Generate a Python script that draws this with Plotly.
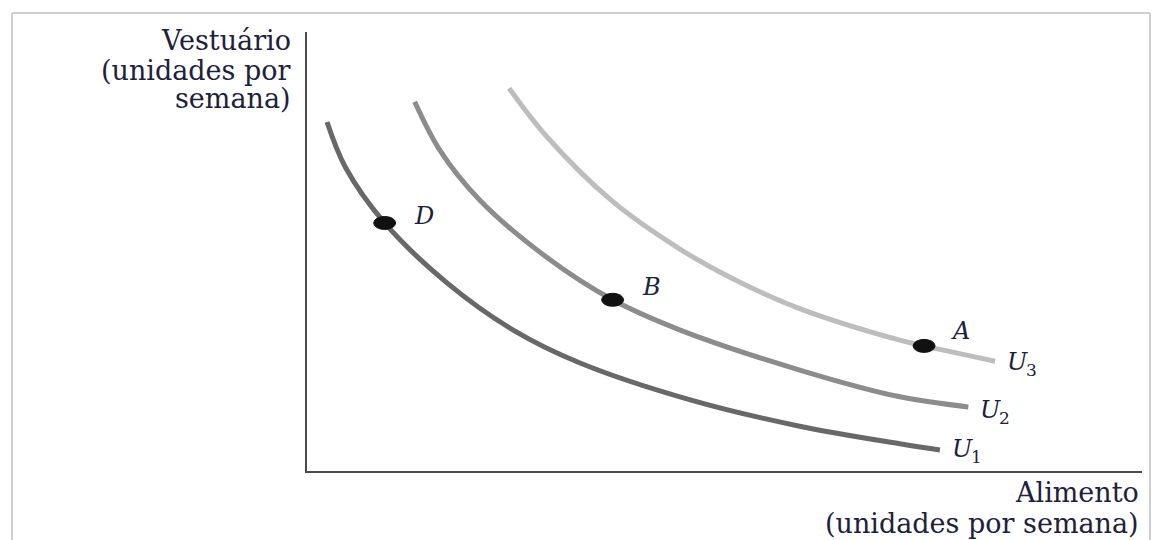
import plotly.graph_objects as go

# Indifference curves (food on x, clothing on y), read in chart units 0-10
food_u1 = [0.24, 0.46, 0.93, 1.68, 2.47, 3.27, 4.59, 5.90, 7.10, 7.58]
cloth_u1 = [7.95, 6.92, 5.65, 4.28, 3.21, 2.46, 1.62, 1.02, 0.62, 0.48]

food_u2 = [1.29, 1.59, 2.07, 2.87, 3.66, 4.47, 5.90, 7.10, 7.92]
cloth_u2 = [8.41, 7.31, 6.17, 4.87, 3.90, 3.21, 2.30, 1.69, 1.46]

food_u3 = [2.42, 2.87, 3.66, 4.47, 5.10, 5.90, 7.10, 7.39, 8.24]
cloth_u3 = [8.72, 7.62, 6.14, 5.05, 4.38, 3.70, 2.98, 2.85, 2.50]

curve_names = ["U1", "U2", "U3"]
curve_letter = "U"
curve_index = ["1", "2", "3"]

# Market baskets marked on the curves
point_labels = ["D", "B", "A"]
point_food = [0.93, 3.66, 7.39]
point_cloth = [5.65, 3.90, 2.85]

y_title_lines = ["Vestuário", "(unidades por", "semana)"]
x_title_lines = ["Alimento", "(unidades por semana)"]

# ---- layout geometry (pixels) ----
W, H = 1154, 540
PL, PR, PT, PB = 307, 1142, 32, 471


def px_x(px):
    return (px - PL) / (PR - PL)


def px_y(py):
    return (PB - py) / (PB - PT)


SERIF = "DejaVu Serif"
TEXT_COLOR = "#20203a"
curve_colors = ["#686868", "#8c8c8c", "#bdbdbd"]

fig = go.Figure()

curves = [(food_u1, cloth_u1), (food_u2, cloth_u2), (food_u3, cloth_u3)]
for (xs, ys), name, color in zip(curves, curve_names, curve_colors):
    fig.add_trace(go.Scatter(
        x=xs, y=ys, mode="lines", name=name,
        line=dict(color=color, width=5, shape="spline", smoothing=1.0),
        hoverinfo="skip",
    ))

annotations = []
shapes = []

# curve end labels: italic letter plus upright index
label_dy = [1, 5, 3]
for (xs, ys), idx, dy in zip(curves, curve_index, label_dy):
    annotations.append(dict(
        x=xs[-1], y=ys[-1], xref="x", yref="y", text=curve_letter, showarrow=False,
        xanchor="left", yanchor="middle", xshift=10, yshift=-dy + 2,
        font=dict(family=SERIF, size=24, color=TEXT_COLOR, style="italic"),
    ))
    annotations.append(dict(
        x=xs[-1], y=ys[-1], xref="x", yref="y", text=idx, showarrow=False,
        xanchor="left", yanchor="middle", xshift=29, yshift=-dy - 6,
        font=dict(family=SERIF, size=17, color=TEXT_COLOR),
    ))

# basket dots and their letters
letter_shift = [(39, 7), (39, 13), (36, 15)]
for lab, fx, cy, (dx, dy) in zip(point_labels, point_food, point_cloth, letter_shift):
    shapes.append(dict(
        type="circle", xref="x", yref="y", xsizemode="pixel", ysizemode="pixel",
        xanchor=fx, yanchor=cy, x0=-11, x1=11, y0=-6.5, y1=6.5,
        fillcolor="#111111", line=dict(color="#111111", width=1), layer="above",
    ))
    annotations.append(dict(
        x=fx, y=cy, xref="x", yref="y", text=lab, showarrow=False,
        xanchor="center", yanchor="middle", xshift=dx, yshift=dy,
        font=dict(family=SERIF, size=24, color=TEXT_COLOR, style="italic"),
    ))

# axis titles, one annotation per line
for line, cy in zip(y_title_lines, [41, 70, 99]):
    annotations.append(dict(
        x=px_x(293), y=px_y(cy), xref="paper", yref="paper", text=line,
        showarrow=False, xanchor="right", yanchor="middle",
        font=dict(family=SERIF, size=27, color=TEXT_COLOR),
    ))
for line, cy in zip(x_title_lines, [492, 523]):
    annotations.append(dict(
        x=px_x(1141), y=px_y(cy), xref="paper", yref="paper", text=line,
        showarrow=False, xanchor="right", yanchor="middle",
        font=dict(family=SERIF, size=27, color=TEXT_COLOR),
    ))

# light page frame
frame = "#cfcfcf"
for x0, y0, x1, y1 in [(12, 13, 12, 545), (12, 13, 1150, 13), (1150, 13, 1150, 545)]:
    shapes.append(dict(
        type="line", xref="paper", yref="paper",
        x0=px_x(x0), y0=px_y(y0), x1=px_x(x1), y1=px_y(y1),
        line=dict(color=frame, width=2), layer="below",
    ))

axis_common = dict(
    range=[0, 10], showgrid=False, zeroline=False, showticklabels=False,
    ticks="", showline=True, linecolor="#4a4a4a", linewidth=2, fixedrange=True,
)

fig.update_layout(
    width=W, height=H,
    margin=dict(l=PL, r=W - PR, t=PT, b=H - PB),
    paper_bgcolor="white", plot_bgcolor="white",
    showlegend=False,
    xaxis=axis_common, yaxis=axis_common,
    annotations=annotations, shapes=shapes,
)

fig.write_html("out.html")
